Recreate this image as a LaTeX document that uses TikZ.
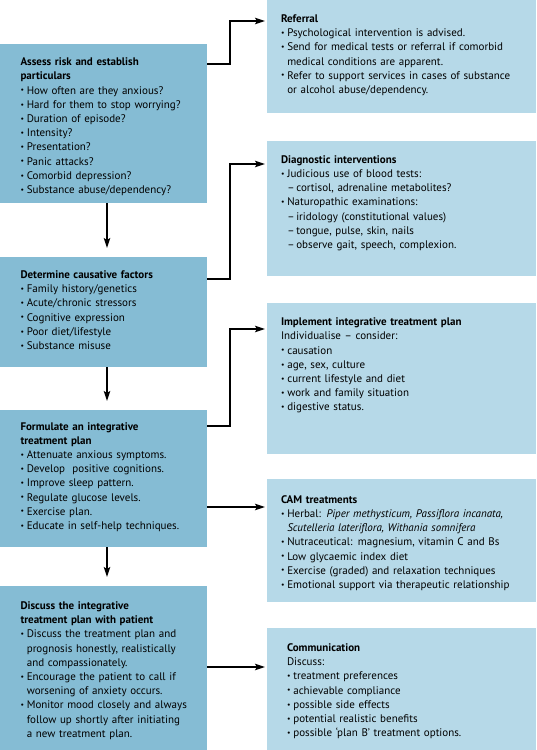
\documentclass[tikz,border=0pt]{standalone}
\usepackage{fontspec}
\setmainfont{PT Sans}
\usetikzlibrary{arrows.meta,calc}
\definecolor{lblue}{RGB}{133,188,212}
\definecolor{rblue}{RGB}{182,217,232}
\newcommand\myfont{\fontsize{11}{14.2}\selectfont}
\newcommand\smallbul{\raisebox{0.22ex}{\scalebox{0.7}{\textbullet}}}
\newcommand\hd[1]{\noindent\rule{0pt}{10pt}\textbf{#1}}
\newcommand\bu[1]{\par\noindent\makebox[6.3pt][l]{\smallbul}#1}
\newcommand\cl[1]{\par\noindent\hspace*{6.3pt}#1}
\newcommand\da[1]{\par\noindent\hspace*{6.3pt}\makebox[9pt][l]{–}#1}
\newcommand\pl{\par\noindent}
\tikzset{
  lbox/.style={fill=lblue, draw=none, anchor=north west, inner sep=0pt, outer sep=0pt},
  rbox/.style={fill=rblue, draw=none, anchor=north west, inner sep=0pt, outer sep=0pt},
  txt/.style={anchor=north west, inner sep=0pt, outer sep=0pt, align=left,
    font=\myfont},
  ltxt/.style={txt, text width=186pt},
  rtxt/.style={txt, text width=250pt},
  conn/.style={line width=1.3pt, -{Stealth[length=10pt,width=6.5pt,inset=2pt]}},
}
\begin{document}
\begin{tikzpicture}[x=1pt,y=-1pt]
\useasboundingbox (0,0) rectangle (536,750);
% boxes
\node[lbox, minimum width=207pt, minimum height=159pt] (L1) at (0,44) {};
\node[lbox, minimum width=207pt, minimum height=110pt] (L2) at (0,257) {};
\node[lbox, minimum width=207pt, minimum height=137pt] (L3) at (0,410) {};
\node[lbox, minimum width=207pt, minimum height=164pt] (L4) at (0,586) {};
\node[rbox, minimum width=269pt, minimum height=113pt] (R1) at (267,0) {};
\node[rbox, minimum width=269pt, minimum height=135pt] (R2) at (267,141) {};
\node[rbox, minimum width=269pt, minimum height=151pt] (R3) at (267,303) {};
\node[rbox, minimum width=269pt, minimum height=123pt] (R4) at (267,479) {};
\node[rbox, minimum width=269pt, minimum height=122pt] (R5) at (267,628) {};
% texts
\node[ltxt] (t1) at ($(L1.north west)+(20.5,11.7)$) {%
\hd{Assess risk and establish\newline particulars}%
\bu{How often are they anxious?}%
\bu{Hard for them to stop worrying?}%
\bu{Duration of episode?}%
\bu{Intensity?}%
\bu{Presentation?}%
\bu{Panic attacks?}%
\bu{Comorbid depression?}%
\bu{Substance abuse/dependency?}};
\node[ltxt] (t2) at ($(L2.north west)+(20.5,11.5)$) {%
\hd{Determine causative factors}%
\bu{Family history/genetics}%
\bu{Acute/chronic stressors}%
\bu{Cognitive expression}%
\bu{Poor diet/lifestyle}%
\bu{Substance misuse}};
\node[ltxt] (t3) at ($(L3.north west)+(20.5,10)$) {%
\hd{Formulate an integrative\newline treatment plan}%
\bu{Attenuate anxious symptoms.}%
\bu{Develop\ \ positive cognitions.}%
\bu{Improve sleep pattern.}%
\bu{Regulate glucose levels.}%
\bu{Exercise plan.}%
\bu{Educate in self-help techniques.}};
\node[ltxt] (t4) at ($(L4.north west)+(20.5,13.4)$) {%
\hd{Discuss the integrative\newline treatment plan with patient}%
\bu{Discuss the treatment plan and}%
\cl{prognosis honestly, realistically}%
\cl{and compassionately.}%
\bu{Encourage the patient to call if}%
\cl{worsening of anxiety occurs.}%
\bu{Monitor mood closely and always}%
\cl{follow up shortly after initiating}%
\cl{a new treatment plan.}};
\node[rtxt] (s1) at ($(R1.north west)+(14,12.4)$) {%
\hd{Referral}%
\bu{Psychological intervention is advised.}%
\bu{Send for medical tests or referral if comorbid}%
\cl{medical conditions are apparent.}%
\bu{Refer to support services in cases of substance}%
\cl{or alcohol abuse/dependency.}};
\node[rtxt] (s2) at ($(R2.north west)+(14,12.3)$) {%
\hd{Diagnostic interventions}%
\bu{Judicious use of blood tests:}%
\da{cortisol, adrenaline metabolites?}%
\bu{Naturopathic examinations:}%
\da{iridology (constitutional values)}%
\da{tongue, pulse, skin, nails}%
\da{observe gait, speech, complexion.}};
\node[rtxt] (s3) at ($(R3.north west)+(14,12.7)$) {%
\hd{Implement integrative treatment plan}%
\pl Individualise – consider:%
\bu{causation}%
\bu{age, sex, culture}%
\bu{current lifestyle and diet}%
\bu{work and family situation}%
\bu{digestive status.}};
\node[rtxt] (s4) at ($(R4.north west)+(14,14.2)$) {%
\hd{CAM treatments}%
\bu{Herbal: \textit{Piper methysticum, Passiflora incanata,}}%
\cl{\textit{Scutelleria lateriflora, Withania somnifera}}%
\bu{Nutraceutical: magnesium, vitamin C and Bs}%
\bu{Low glycaemic index diet}%
\bu{Exercise (graded) and relaxation techniques}%
\bu{Emotional support via therapeutic relationship}};
\node[rtxt] (s5) at ($(R5.north west)+(20,13.5)$) {%
\hd{Communication}%
\pl Discuss:%
\bu{treatment preferences}%
\bu{achievable compliance}%
\bu{possible side effects}%
\bu{potential realistic benefits}%
\bu{possible ‘plan B’ treatment options.}};
% connectors
\draw[conn] ($(L1.south west)+(107,0)$) -- ($(L2.north west)+(107,-9)$);
\draw[conn] ($(L2.south west)+(107,0)$) -- ($(L3.north west)+(107,-9)$);
\draw[conn] ($(L3.south west)+(107,0)$) -- ($(L4.north west)+(107,-9)$);
\draw[conn] ($(L1.north east)+(0,20)$) -- ++(23,0) |- ($(R1.north west)+(-2,21)$);
\draw[conn] ($(L2.north east)+(0,22)$) -- ++(23,0) |- ($(R2.north west)+(-2,23)$);
\draw[conn] ($(L3.north east)+(0,16)$) -- ++(23,0) |- ($(R3.north west)+(-2,26)$);
\draw[conn] ($(L3.north east)+(0,97)$) -- ($(R4.north west)+(-2,28)$);
\draw[conn] ($(L4.north east)+(0,81)$) -- ($(R5.north west)+(-2,39)$);
\end{tikzpicture}
\end{document}
